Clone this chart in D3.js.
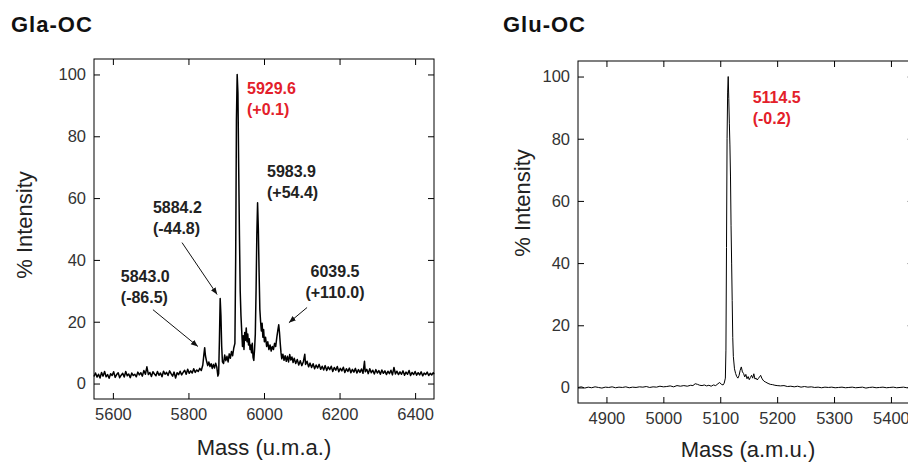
<!DOCTYPE html>
<html>
<head>
<meta charset="utf-8">
<script src="https://cdn.jsdelivr.net/npm/d3@7"></script>
<style>
  body { margin: 0; background: #fff; }
  svg { display: block; font-family: "Liberation Sans", Arial, sans-serif; }
</style>
</head>
<body>
<svg id="chart" width="908" height="462"></svg>
<script>
// Gla-OC spectrum, [mass, % intensity]
const glaSpectrum = [
  [5550,2.3],[5554,3.4],[5558,2.1],[5562,3.0],[5566,1.8],[5570,3.6],[5574,2.4],[5578,3.9],[5582,2.2],[5586,2.9],
  [5590,1.7],[5594,3.2],[5598,2.6],[5602,3.8],[5606,2.0],[5610,2.9],[5614,3.5],[5618,1.9],[5622,2.7],[5626,3.3],
  [5630,2.1],[5634,3.9],[5638,2.5],[5642,3.1],[5646,1.9],[5650,3.4],[5654,2.6],[5658,3.0],[5662,2.2],[5666,3.7],
  [5670,2.8],[5674,3.5],[5678,2.4],[5682,4.2],[5686,3.0],[5690,5.4],[5694,2.9],[5698,3.6],[5702,2.3],[5706,3.8],
  [5710,3.1],[5714,2.5],[5718,3.9],[5722,2.7],[5726,3.4],[5730,2.2],[5734,4.0],[5738,3.0],[5742,3.6],[5746,2.6],
  [5750,4.1],[5754,3.2],[5758,2.4],[5762,3.7],[5766,1.8],[5770,3.5],[5774,2.9],[5778,4.0],[5782,2.8],[5786,3.6],
  [5790,4.3],[5794,3.0],[5798,4.6],[5802,3.3],[5806,4.1],[5810,3.4],[5814,4.8],[5818,3.6],[5822,4.4],[5826,3.9],
  [5830,4.9],[5834,4.2],[5838,6.0],[5841,9.5],[5843,11.6],[5845,9.0],[5848,7.2],[5851,5.8],[5854,7.0],[5857,5.5],
  [5860,6.4],[5863,4.9],[5866,6.2],[5869,5.0],[5872,6.6],[5875,5.4],[5878,2.4],[5880,3.2],[5882,14.0],[5884,27.5],
  [5886,22.0],[5888,12.0],[5890,7.0],[5893,6.5],[5896,9.2],[5899,7.4],[5902,8.8],[5905,7.0],[5908,9.6],[5911,8.2],
  [5914,10.4],[5917,9.0],[5920,11.5],[5923,13.0],[5925,40.0],[5927,85.0],[5929,100],[5931,94.0],[5933,70.0],[5935,48.0],
  [5937,30.0],[5939,22.0],[5941,17.0],[5943,12.0],[5945,15.5],[5947,11.0],[5949,16.5],[5951,14.0],[5953,18.0],[5955,13.5],
  [5957,16.0],[5959,12.5],[5961,14.5],[5963,11.0],[5965,12.5],[5967,10.0],[5969,13.0],[5971,8.5],[5973,7.5],[5975,11.0],
  [5977,16.0],[5979,30.0],[5981,48.0],[5983,58.5],[5985,50.0],[5987,36.0],[5989,24.0],[5991,20.0],[5993,17.0],[5995,19.5],
  [5997,15.0],[5999,17.5],[6001,13.5],[6004,15.0],[6007,12.0],[6010,13.5],[6013,11.0],[6016,12.5],[6019,10.5],[6022,12.0],
  [6025,11.0],[6028,13.0],[6031,12.0],[6034,15.0],[6037,17.5],[6039,19.0],[6041,16.5],[6043,13.0],[6045,10.0],[6047,8.0],
  [6050,9.5],[6053,7.5],[6056,9.0],[6059,7.2],[6062,8.8],[6065,7.0],[6068,9.4],[6071,7.6],[6074,8.6],[6077,6.8],
  [6080,8.2],[6084,6.5],[6088,7.8],[6092,6.0],[6096,7.4],[6100,5.8],[6104,7.0],[6108,9.5],[6110,6.2],[6114,7.2],
  [6118,5.4],[6122,6.6],[6126,5.2],[6130,6.4],[6134,4.8],[6138,6.0],[6142,5.0],[6146,6.2],[6150,4.6],[6154,5.6],
  [6158,4.4],[6162,5.8],[6166,4.2],[6170,5.4],[6174,4.5],[6178,5.6],[6182,3.9],[6186,5.2],[6190,4.3],[6194,5.5],
  [6198,3.8],[6202,4.9],[6206,4.1],[6210,5.3],[6214,3.6],[6218,4.8],[6222,3.9],[6226,5.0],[6230,3.5],[6234,4.6],
  [6238,3.7],[6242,4.9],[6246,3.4],[6250,4.5],[6254,3.6],[6258,4.7],[6262,3.3],[6266,7.2],[6268,3.8],[6272,4.6],
  [6276,3.2],[6280,4.8],[6284,3.5],[6288,4.3],[6292,3.1],[6296,4.5],[6300,3.4],[6304,4.2],[6308,3.0],[6312,4.4],
  [6316,3.3],[6320,4.1],[6324,2.9],[6328,4.0],[6332,3.2],[6336,4.3],[6340,2.8],[6344,5.2],[6348,3.1],[6352,4.0],
  [6356,2.9],[6360,3.8],[6364,3.0],[6368,4.1],[6372,2.7],[6376,3.7],[6380,3.0],[6384,4.2],[6388,2.6],[6392,3.6],
  [6396,2.9],[6400,3.9],[6404,2.7],[6408,3.5],[6412,2.8],[6416,3.8],[6420,2.5],[6424,3.4],[6428,2.9],[6432,3.7],
  [6436,2.6],[6440,3.3],[6444,2.8],[6448,3.5],[6450,3.0]
];

// Glu-OC spectrum
const gluSpectrum = [
  [4850,0.0],[4856,0.2],[4862,-0.2],[4868,0.1],[4874,-0.1],[4880,0.2],[4886,0.0],[4892,-0.2],[4898,0.1],[4904,0.0],
  [4910,0.2],[4916,-0.1],[4922,0.1],[4928,0.0],[4934,0.2],[4940,-0.1],[4946,0.1],[4952,0.0],[4958,0.2],[4964,0.1],
  [4970,0.3],[4976,0.0],[4982,0.2],[4988,0.1],[4994,0.4],[5000,0.2],[5006,0.3],[5012,0.5],[5018,0.2],[5024,0.6],
  [5030,0.4],[5036,0.6],[5042,0.4],[5048,0.7],[5052,0.6],[5056,1.2],[5060,1.0],[5064,0.7],[5068,0.6],[5072,0.8],
  [5076,0.5],[5080,0.7],[5084,0.4],[5088,0.8],[5092,0.6],[5096,1.2],[5099,1.6],[5102,1.0],[5105,0.8],[5107,1.4],
  [5109,3.0],[5110,12],[5111,45],[5112,80],[5113,95],[5114,100],[5115,93],[5116,85],[5117,78],[5118,68],
  [5119,52],[5120,40],[5121,28],[5122,16],[5123,10],[5125,6],[5127,4.5],[5129,3.5],[5131,3.0],[5133,3.8],
  [5135,5.5],[5137,6.6],[5139,5.0],[5141,4.5],[5143,3.4],[5145,4.2],[5147,2.8],[5149,3.5],[5151,2.5],[5153,3.2],
  [5155,3.9],[5157,3.0],[5159,4.4],[5161,2.7],[5163,3.0],[5165,2.4],[5167,2.9],[5169,3.4],[5171,3.9],[5173,3.0],
  [5175,2.4],[5177,2.0],[5180,1.7],[5184,1.3],[5188,1.0],[5192,0.9],[5196,0.7],[5200,0.6],[5206,0.5],[5212,0.6],
  [5218,0.3],[5224,0.4],[5230,0.2],[5236,0.4],[5242,0.1],[5248,0.3],[5254,0.1],[5260,0.2],[5266,0.0],[5272,0.1],
  [5278,-0.1],[5284,0.1],[5290,0.0],[5296,0.1],[5302,-0.1],[5308,0.0],[5314,0.1],[5320,-0.1],[5326,0.0],[5332,0.1],
  [5338,-0.1],[5344,0.0],[5350,0.1],[5356,-0.2],[5362,0.0],[5368,0.1],[5374,-0.1],[5380,0.0],[5386,0.1],[5392,-0.1],
  [5398,0.0],[5404,0.1],[5410,-0.1],[5416,0.0],[5422,0.1],[5428,-0.1],[5434,0.0],[5440,0.1]
];

const intensityTicks = [0, 20, 40, 60, 80, 100];
const glaMassTicks = [5600, 5800, 6000, 6200, 6400];
const gluMassTicks = [4900, 5000, 5100, 5200, 5300, 5400];

// peak labels: anchor in data units (first line baseline)
const glaLabels = [
  { mass: 5955, y: 93.8, lines: ["5929.6", "(+0.1)"], red: true, anchor: "start" },
  { mass: 6008, y: 66.9, lines: ["5983.9", "(+54.4)"], anchor: "start" },
  { mass: 5706, y: 55.3, lines: ["5884.2", "(-44.8)"], anchor: "start" },
  { mass: 5621, y: 33.0, lines: ["5843.0", "(-86.5)"], anchor: "start" },
  { mass: 6188, y: 34.6, lines: ["6039.5", "(+110.0)"], anchor: "middle" }
];
const glaArrows = [
  { from: [5783, 45.6], to: [5876, 28.8] },
  { from: [5706, 23.9], to: [5825, 12.0] },
  { from: [6114, 24.6], to: [6066, 19.7] }
];
const gluLabels = [
  { mass: 5157, y: 91.5, lines: ["5114.5", "(-0.2)"], red: true, anchor: "start" }
];

const svg = d3.select("#chart");

svg.append("defs").append("marker")
  .attr("id", "arrow").attr("viewBox", "0 0 10 10")
  .attr("refX", 10).attr("refY", 5)
  .attr("markerWidth", 7).attr("markerHeight", 7)
  .attr("markerUnits", "userSpaceOnUse")
  .attr("orient", "auto")
  .append("path").attr("d", "M0,1 L10,5 L0,9 Z").attr("fill", "#111");

function drawPanel(p) {
  const x = d3.scaleLinear().domain(p.xDomain).range([p.left, p.right]);
  const y = d3.scaleLinear().domain([-5, 105]).range([p.bottom, p.top]);
  const g = svg.append("g");

  // title
  g.append("text").attr("x", p.titleX).attr("y", 32)
    .attr("font-size", 22).attr("font-weight", "bold").attr("letter-spacing", 1)
    .attr("fill", "#111").text(p.title);

  // spectrum
  g.append("path").datum(p.data)
    .attr("fill", "none").attr("stroke", "#000")
    .attr("stroke-width", p.lineWidth).attr("stroke-linejoin", "round")
    .attr("d", d3.line().x(d => x(d[0])).y(d => y(d[1])));

  // axes with inner ticks on all sides
  const styleAxis = sel => {
    sel.select(".domain").remove();
    sel.selectAll(".tick line").attr("stroke", "#000");
    sel.selectAll(".tick text").attr("fill", "#333")
      .attr("font-size", 16.5).attr("font-family", "Liberation Sans, Arial, sans-serif");
  };
  g.append("g").attr("transform", `translate(0,${p.bottom})`)
    .call(d3.axisBottom(x).tickValues(p.ticks).tickSize(-6).tickPadding(9).tickFormat(d3.format("d")))
    .call(styleAxis);
  g.append("g").attr("transform", `translate(0,${p.top})`)
    .call(d3.axisTop(x).tickValues(p.ticks).tickSize(-6).tickFormat(""))
    .call(styleAxis);
  g.append("g").attr("transform", `translate(${p.left},0)`)
    .call(d3.axisLeft(y).tickValues(intensityTicks).tickSize(-6).tickPadding(8))
    .call(styleAxis);
  g.append("g").attr("transform", `translate(${p.right},0)`)
    .call(d3.axisRight(y).tickValues(intensityTicks).tickSize(-6).tickFormat(""))
    .call(styleAxis);

  g.append("rect").attr("x", p.left).attr("y", p.top)
    .attr("width", p.right - p.left).attr("height", p.bottom - p.top)
    .attr("fill", "none").attr("stroke", "#000").attr("stroke-width", 1);

  // axis titles
  g.append("text").attr("x", p.xTitleX).attr("y", p.xTitleY)
    .attr("text-anchor", "middle").attr("font-size", 22).attr("fill", "#222")
    .text(p.xTitle);
  g.append("text")
    .attr("transform", `translate(${p.yTitleX},${p.yTitleY}) rotate(-90)`)
    .attr("text-anchor", "middle").attr("font-size", 22).attr("fill", "#222")
    .text("% Intensity");

  // arrows
  g.selectAll(".arrow").data(p.arrows).enter().append("line")
    .attr("x1", d => x(d.from[0])).attr("y1", d => y(d.from[1]))
    .attr("x2", d => x(d.to[0])).attr("y2", d => y(d.to[1]))
    .attr("stroke", "#111").attr("stroke-width", 1)
    .attr("marker-end", "url(#arrow)");

  // peak labels
  const lab = g.selectAll(".peak").data(p.labels).enter().append("text")
    .attr("x", d => x(d.mass)).attr("y", d => y(d.y))
    .attr("text-anchor", d => d.anchor)
    .attr("font-size", 16).attr("font-weight", "bold")
    .attr("fill", d => d.red ? "#e3202a" : "#222");
  lab.selectAll("tspan").data(d => d.lines.map(t => ({ t, x: x(d.mass) }))).enter().append("tspan")
    .attr("x", d => d.x).attr("dy", (d, i) => i === 0 ? 0 : 21)
    .text(d => d.t);
}

drawPanel({
  title: "Gla-OC", titleX: 11, data: glaSpectrum, xDomain: [5550, 6450], ticks: glaMassTicks,
  left: 94, right: 434, top: 59, bottom: 399, lineWidth: 1.5,
  xTitle: "Mass (u.m.a.)", xTitleX: 264, xTitleY: 455, yTitleX: 32, yTitleY: 225,
  labels: glaLabels, arrows: glaArrows
});

drawPanel({
  title: "Glu-OC", titleX: 503, data: gluSpectrum, xDomain: [4850, 5440], ticks: gluMassTicks,
  left: 578, right: 913.7, top: 61, bottom: 403, lineWidth: 1,
  xTitle: "Mass (a.m.u.)", xTitleX: 748, xTitleY: 457, yTitleX: 530, yTitleY: 203,
  labels: gluLabels, arrows: []
});
</script>
</body>
</html>
